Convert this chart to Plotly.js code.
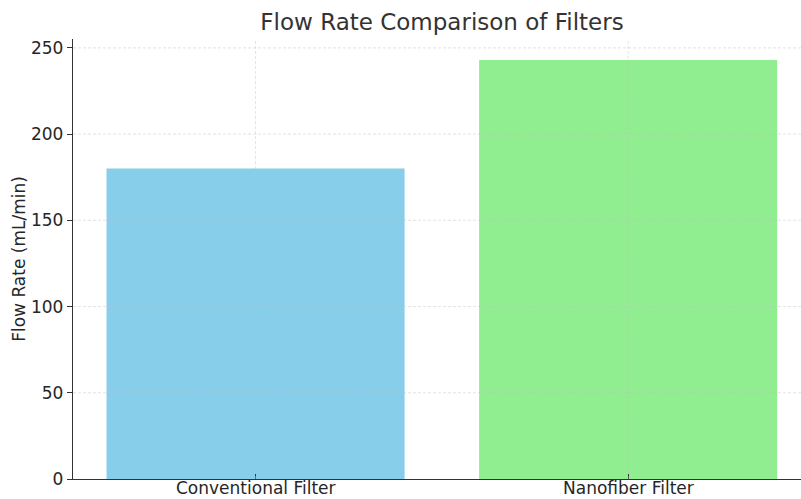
<!DOCTYPE html>
<html><head><meta charset="utf-8">
<script src="https://cdn.plot.ly/plotly-3.0.1.min.js"></script>
<style>html,body{margin:0;padding:0;background:#fff}#chart{width:801px;height:499px}</style>
</head><body><div id="chart"></div>
<script>
const categories = ["Conventional Filter", "Nanofiber Filter"];
const flowRates = [180, 243];
const barColors = ["#87CEEB", "#90EE90"];
const yTicks = [0, 50, 100, 150, 200, 250];

const fam = "DejaVu Sans, sans-serif";
const xIdx = categories.map((c, i) => i);
const gridStyle = {color: "rgba(190,190,190,0.55)", width: 0.8, dash: "3px,2px"};
const shapes = [];
yTicks.filter(v => v > 0).forEach(v => shapes.push({type: "line", layer: "above", xref: "paper", x0: 0, x1: 1, yref: "y", y0: v, y1: v, line: gridStyle}));
xIdx.forEach(i => shapes.push({type: "line", layer: "above", xref: "x", x0: i, x1: i, yref: "paper", y0: 0, y1: 1, line: gridStyle}));

const annotations = categories.map((c, i) => ({
  text: c, x: i, xref: "x", y: 0, yref: "paper", xanchor: "center", yanchor: "bottom",
  yshift: -20, showarrow: false, borderpad: 0,
  font: {family: fam, size: 17, color: "#262626"}
}));

const trace = {
  type: "bar", x: xIdx, y: flowRates, width: 0.8,
  marker: {color: barColors, line: {width: 0}},
  hoverinfo: "skip"
};
const layout = {
  width: 801, height: 499,
  margin: {l: 73, r: 0, t: 39, b: 20, pad: 0},
  paper_bgcolor: "#fff", plot_bgcolor: "#fff",
  font: {family: fam, size: 17, color: "#262626"},
  title: {text: "Flow Rate Comparison of Filters", font: {family: fam, size: 23, color: "#333"},
          x: 442/801, xanchor: "center", y: 1 - 22/499, yanchor: "middle"},
  xaxis: {range: [-0.49, 1.464], tickvals: xIdx, showticklabels: false,
          showline: true, linecolor: "#333", linewidth: 1.2,
          ticks: "inside", ticklen: 5, tickcolor: "#333",
          showgrid: false, zeroline: false, fixedrange: true},
  yaxis: {range: [0, 255.15], tickvals: yTicks,
          showline: true, linecolor: "#333", linewidth: 1.2,
          ticks: "outside", ticklen: 5, tickcolor: "#333",
          showgrid: false, zeroline: false, tickfont: {size: 17, color: "#262626"},
          title: {text: "Flow Rate (mL/min)", font: {size: 17}, standoff: 1}},
  shapes: shapes,
  annotations: annotations,
  showlegend: false
};
Plotly.newPlot("chart", [trace], layout, {staticPlot: true});
</script></body></html>
